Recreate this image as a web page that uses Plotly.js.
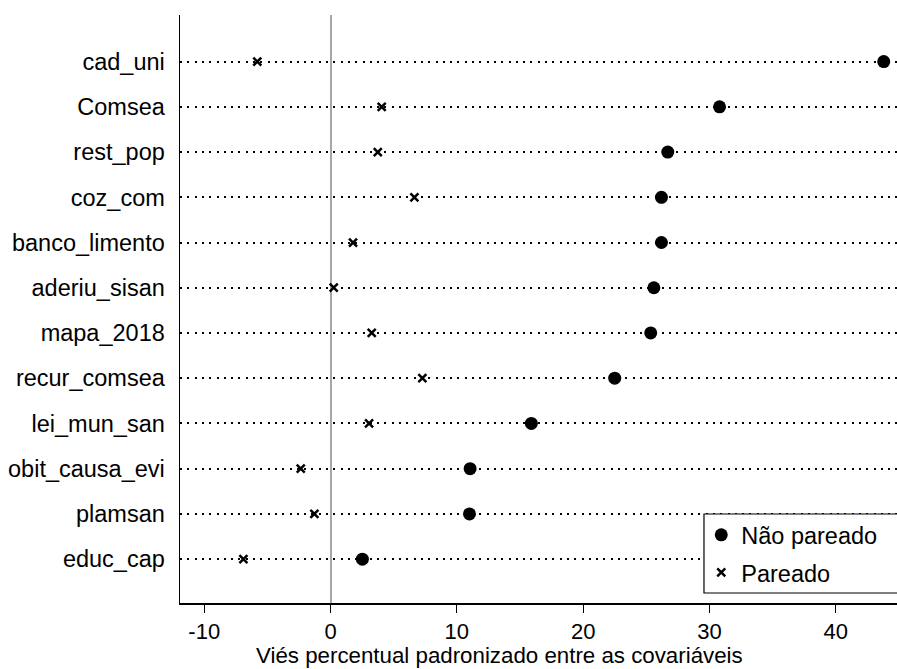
<!DOCTYPE html>
<html>
<head>
<meta charset="utf-8">
<script src="https://cdn.plot.ly/plotly-3.0.1.min.js"></script>
<style>html,body{margin:0;padding:0;background:#fff;}#chart{width:897px;height:669px;}</style>
</head>
<body>
<div id="chart"></div>
<script>
const variables = ['cad_uni','Comsea','rest_pop','coz_com','banco_limento','aderiu_sisan','mapa_2018','recur_comsea','lei_mun_san','obit_causa_evi','plamsan','educ_cap'];
const naoPareado = [43.8, 30.8, 26.7, 26.2, 26.2, 25.6, 25.35, 22.5, 15.9, 11.05, 11.0, 2.52];
const pareado = [-5.8, 4.05, 3.74, 6.64, 1.78, 0.25, 3.26, 7.27, 3.05, -2.36, -1.28, -6.9];
const xTicks = [-10, 0, 10, 20, 30, 40];
const xTitle = 'Viés percentual padronizado entre as covariáveis';

const font = 'Liberation Sans, Arial, Helvetica, sans-serif';

const traces = [
  {
    type: 'scatter', mode: 'markers', name: 'Não pareado', legendgroup: 'a',
    x: naoPareado, y: variables,
    marker: {symbol: 'circle', size: 13, color: '#000'},
    cliponaxis: false
  },
  {
    type: 'scatter', mode: 'markers', name: 'Pareado', legendgroup: 'b',
    x: pareado, y: variables,
    marker: {symbol: 'x-thin', size: 8, color: '#000', line: {width: 2.5, color: '#000'}},
    cliponaxis: false
  }
];

const layout = {
  width: 897, height: 669,
  margin: {l: 180, r: 0, t: 15, b: 66, autoexpand: false},
  paper_bgcolor: '#fff', plot_bgcolor: '#fff',
  font: {family: font, size: 22, color: '#000'},
  showlegend: true,
  legend: {
    x: 0.727, y: 0.153, xanchor: 'left', yanchor: 'top',
    borderwidth: 0, bgcolor: 'rgba(0,0,0,0)',
    font: {family: font, size: 23.5, color: '#000'},
    itemwidth: 30, traceorder: 'grouped', tracegroupgap: 4
  },
  shapes: [{
    type: 'rect', xref: 'paper', yref: 'paper',
    x0: 0.7308, x1: 1.05, y0: 0.017, y1: 0.1514,
    line: {color: '#000', width: 1.2}, fillcolor: '#fff', layer: 'above'
  }],
  annotations: [{
    text: xTitle, xref: 'paper', yref: 'paper',
    x: 0.446, y: -0.090, xanchor: 'center', yanchor: 'middle',
    showarrow: false, font: {family: font, size: 22.3, color: '#000'}
  }],
  xaxis: {
    range: [-11.92, 44.85],
    tickvals: xTicks, ticktext: xTicks.map(String),
    ticks: 'outside', ticklen: 8, tickwidth: 1.2, tickcolor: '#000',
    showline: true, linecolor: '#000', linewidth: 1.5,
    showgrid: false,
    zeroline: true, zerolinecolor: '#a6a6a6', zerolinewidth: 2,
    tickfont: {family: font, size: 22, color: '#000'},
    fixedrange: true
  },
  yaxis: {
    type: 'category', categoryorder: 'array', categoryarray: variables,
    range: [11.97, -1.03],
    showline: true, linecolor: '#000', linewidth: 1.5,
    ticks: '', ticklabelstandoff: 9,
    showgrid: true, gridcolor: '#000', gridwidth: 2, griddash: '2px,5.3px',
    zeroline: false,
    tickfont: {family: font, size: 23.5, color: '#000'},
    fixedrange: true
  }
};

Plotly.newPlot('chart', traces, layout, {displayModeBar: false, staticPlot: true});
</script>
</body>
</html>
